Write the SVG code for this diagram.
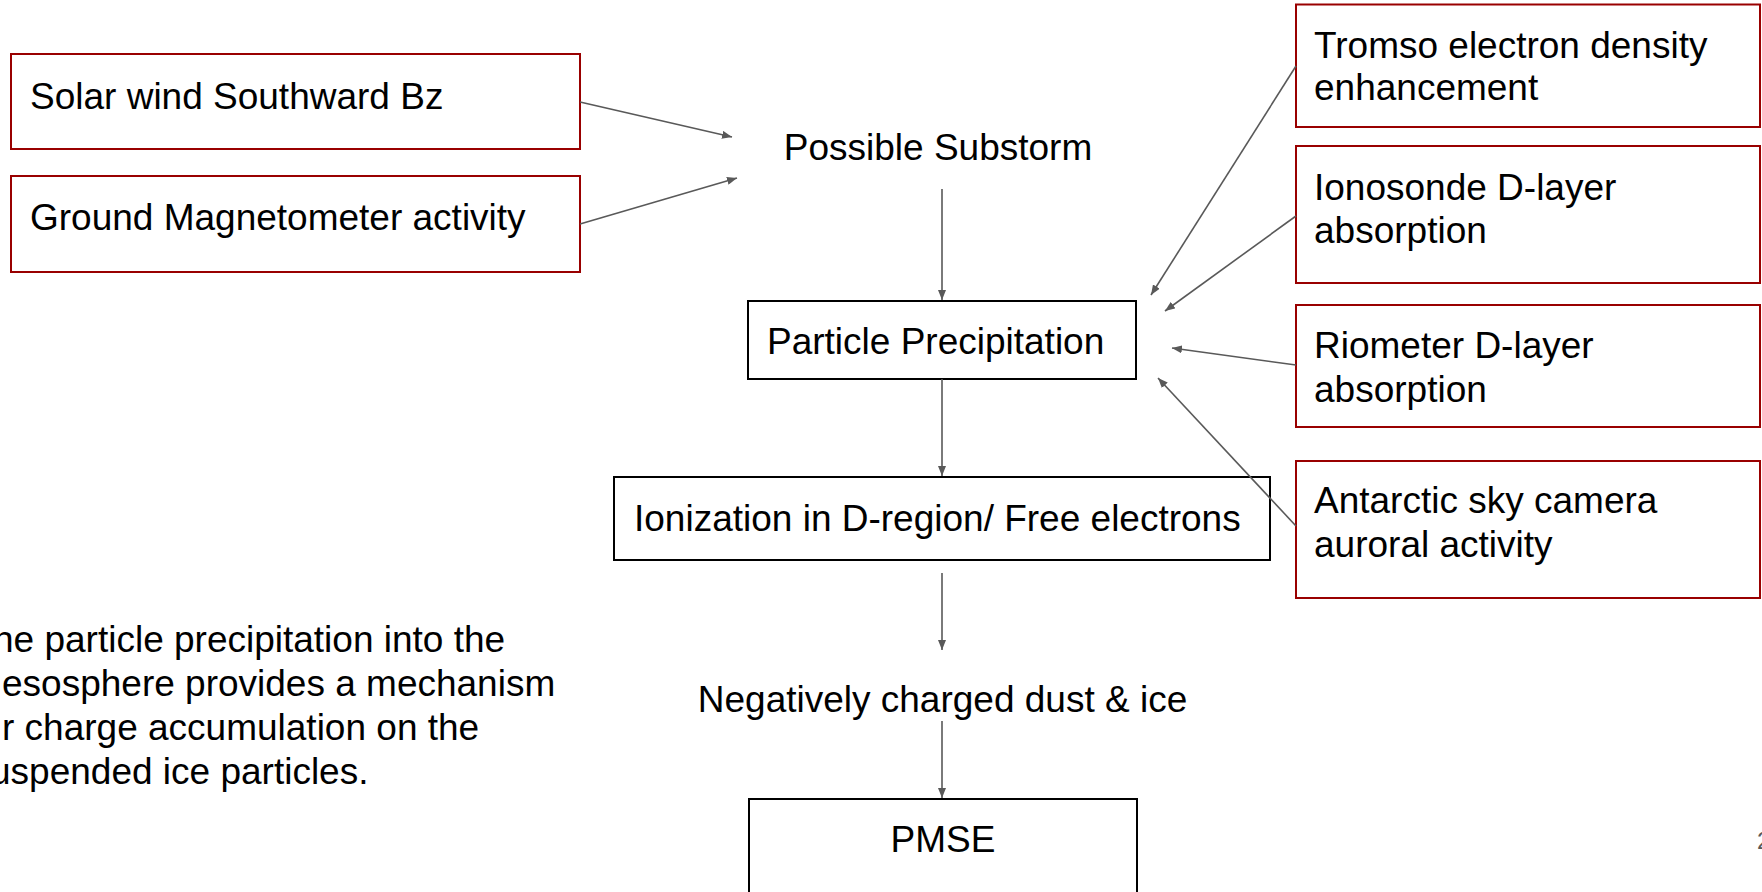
<svg xmlns="http://www.w3.org/2000/svg" width="1762" height="892" viewBox="0 0 1762 892">
<style>
text{font-family:"Liberation Sans",Arial,sans-serif;font-size:37px;fill:#000}
.red{fill:none;stroke:#990000;stroke-width:2}
.blk{fill:none;stroke:#000;stroke-width:2}
.mid{text-anchor:middle}
.conn line{stroke:#595959;stroke-width:1.6;fill:none}
.pg{font-size:24px;fill:#595959}
</style>
<defs>
<marker id="ah" viewBox="0 0 10 8" refX="10" refY="4" markerWidth="10" markerHeight="8" markerUnits="userSpaceOnUse" orient="auto">
<path d="M0,0 L10,4 L0,8 z" fill="#595959"/>
</marker>
</defs>
<rect x="0" y="0" width="1762" height="892" fill="#fff"/>
<g id="solar-wind">
<rect class="red" x="11" y="54" width="569" height="95"/>
<text x="30" y="109">Solar wind Southward Bz</text>
</g>
<g id="ground-magnetometer">
<rect class="red" x="11" y="176" width="569" height="96"/>
<text x="30" y="230">Ground Magnetometer activity</text>
</g>
<g id="possible-substorm">
<text class="mid" x="938" y="160">Possible Substorm</text>
</g>
<g id="tromso">
<rect class="red" x="1296" y="4.5" width="464" height="122.5"/>
<text x="1314" y="58">Tromso electron density</text>
<text x="1314" y="100">enhancement</text>
</g>
<g id="ionosonde">
<rect class="red" x="1296" y="146" width="464" height="137"/>
<text x="1314" y="200">Ionosonde D-layer</text>
<text x="1314" y="243">absorption</text>
</g>
<g id="riometer">
<rect class="red" x="1296" y="305" width="464" height="122"/>
<text x="1314" y="358">Riometer D-layer</text>
<text x="1314" y="402">absorption</text>
</g>
<g id="antarctic">
<rect class="red" x="1296" y="461" width="464" height="137"/>
<text x="1314" y="513">Antarctic sky camera</text>
<text x="1314" y="557">auroral activity</text>
</g>
<g id="particle-precipitation">
<rect class="blk" x="748" y="301" width="388" height="78"/>
<text x="767" y="354">Particle Precipitation</text>
</g>
<g id="ionization">
<rect class="blk" x="614" y="477" width="656" height="83"/>
<text x="634" y="531">Ionization in D-region/ Free electrons</text>
</g>
<g id="negatively-charged">
<text class="mid" x="942.5" y="712">Negatively charged dust &amp; ice</text>
</g>
<g id="pmse">
<rect class="blk" x="749" y="799" width="388" height="130"/>
<text class="mid" x="943" y="852">PMSE</text>
</g>
<g id="note">
<text x="-7" y="652">he particle precipitation into the</text>
<text x="2" y="696">esosphere provides a mechanism</text>
<text x="2" y="740">r charge accumulation on the</text>
<text x="-10" y="784">uspended ice particles.</text>
</g>
<g id="page-number">
<text class="pg" x="1757" y="849">2</text>
</g>
<g id="connectors" class="conn">
<line x1="580" y1="102" x2="732" y2="137" marker-end="url(#ah)"/>
<line x1="580" y1="224" x2="737" y2="178" marker-end="url(#ah)"/>
<line x1="942" y1="189" x2="942" y2="300" marker-end="url(#ah)"/>
<line x1="942" y1="379" x2="942" y2="476" marker-end="url(#ah)"/>
<line x1="942" y1="573" x2="942" y2="650" marker-end="url(#ah)"/>
<line x1="942" y1="721" x2="942" y2="798" marker-end="url(#ah)"/>
<line x1="1296" y1="66" x2="1151" y2="295" marker-end="url(#ah)"/>
<line x1="1296" y1="216" x2="1165" y2="311" marker-end="url(#ah)"/>
<line x1="1296" y1="365" x2="1172" y2="348" marker-end="url(#ah)"/>
<line x1="1296" y1="526" x2="1158" y2="378" marker-end="url(#ah)"/>
</g>
</svg>
